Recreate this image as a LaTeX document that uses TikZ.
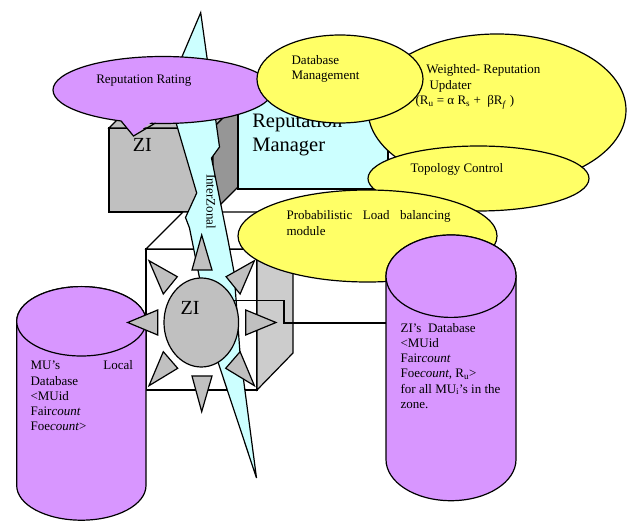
\documentclass[tikz,border=0pt]{standalone}
\usepackage{fontspec}
\setmainfont{Liberation Serif}
\usetikzlibrary{shapes.geometric}
\definecolor{lav}{HTML}{D896FF}
\definecolor{yel}{HTML}{FFFF66}
\definecolor{cya}{HTML}{CCFFFF}
\definecolor{gA}{HTML}{C0C0C0}
\definecolor{gD}{HTML}{969696}
\definecolor{gL}{HTML}{CCCCCC}
\begin{document}
\begin{tikzpicture}[x=1pt,y=-1pt, line width=1.2pt, line join=miter,
 txt/.style={anchor=base west, inner sep=0pt, font=\fontsize{13}{15}\selectfont},
 big/.style={anchor=base west, inner sep=0pt, font=\fontsize{20.5}{24}\selectfont},
 oval/.style={ellipse, draw, inner sep=0pt, outer sep=0pt},
 tri/.style={draw, fill=gA}]
\useasboundingbox (0,0) rectangle (627,521);

% upper cube
\draw[fill=gA] (109,128) rectangle (213,212);
\draw[fill=gA] (109,128) -- (134,103) -- (238,103) -- (213,128) -- cycle;
\draw[fill=gD] (213,128) -- (238,103) -- (238,187) -- (213,212) -- cycle;
\node[anchor=base west, inner sep=0pt, font=\fontsize{20}{24}\selectfont] (zitop) at (132.3,151.7) {ZI};

% reputation manager box
\draw[fill=cya] (238,98) rectangle (388,189);
\node[big] (rm1) at (251.7,127.7) {Reputation};
\node[big] (rm2) at (251.7,151.7) {Manager};

% lower cube
\draw[fill=white] (146,249) rectangle (257,390);
\draw[fill=white] (146,249) -- (183,212) -- (293,212) -- (257,249) -- cycle;
\draw[fill=gL] (257,249) -- (293,212) -- (293,353) -- (257,390) -- cycle;

% interzonal bolt
\draw[fill=cya] (200.7,12.7) -- (219.5,147) -- (211.5,158) -- (228,240) -- (234,272) -- (240,353) -- (256.5,478) -- (214,350) -- (189.5,228) -- (185.5,217.5) -- (196.7,193) -- (167,92) -- cycle;
\node[rotate=-90, inner sep=0pt, font=\fontsize{13}{15}\selectfont] (iz) at (211,201.5) {InterZonal};

% reputation rating bubble
\node[oval, fill=lav, minimum width=220pt, minimum height=67pt] (bub) at (163,90) {};
\fill[lav] (119,117) -- (133.5,136) -- (158,117) -- cycle;
\draw (121.3,121.3) -- (133.5,136) -- (155.5,123);
\node[txt] (rr) at (95.7,84) {Reputation Rating};

% weighted reputation updater
\node[oval, fill=yel, minimum width=258pt, minimum height=152pt] (wr) at (497,110) {};
\node[txt] (wr1) at (425.7,73.3) {Weighted- Reputation};
\node[txt] (wr2) at (429,89.3) {Updater};
\node[txt] (wr3) at (415,105) {(R\textsubscript{u} = α R\textsubscript{s} +\ \ βR\textsubscript{\textit{f}} )};

% database management
\node[oval, fill=yel, minimum width=166pt, minimum height=88pt] (dbm) at (340,79) {};
\node[txt] (dbm1) at (291,65) {Database};
\node[txt] (dbm2) at (291,80) {Management};

% topology control
\node[oval, fill=yel, minimum width=221pt, minimum height=65pt] (tc) at (478.5,178.5) {};
\node[txt] (tc1) at (410,173) {Topology Control};

% probabilistic load balancing
\node[oval, fill=yel, minimum width=259pt, minimum height=92pt] (plb) at (367.5,236) {};
\node[txt] (plb1) at (286,220) {\makebox[164pt][l]{Probabilistic\hfill Load\hfill balancing}};
\node[txt] (plb2) at (286,236) {module};

% ZI's database cylinder
\draw[fill=lav] (386,276.2) -- (386,459.5) arc[start angle=180, end angle=360, x radius=65pt, y radius=41.2pt] -- (516,276.2) arc[start angle=0, end angle=180, x radius=65pt, y radius=41.2pt] -- cycle;
\draw[fill=lav] (451,276.2) ellipse [x radius=65pt, y radius=41.2pt];
\coordinate (zdb) at (386,323);
\node[txt] (zd1) at (400,332.3) {ZI’s\ \ Database};
\node[txt] (zd2) at (400,347.5) {<MUid};
\node[txt] (zd3) at (400,362.7) {Fair\textit{count}};
\node[txt] (zd4) at (400,377.9) {Foe\textit{count}, R\textsubscript{u}>};
\node[txt] (zd5) at (400,393.1) {for all MU\textsubscript{i}’s in the};
\node[txt] (zd6) at (400,408.3) {zone.};

% MU's local database cylinder
\draw[fill=lav] (16.7,321.3) -- (16.7,485.5) arc[start angle=180, end angle=360, x radius=64.65pt, y radius=34.7pt] -- (146,321.3) arc[start angle=0, end angle=180, x radius=64.65pt, y radius=34.7pt] -- cycle;
\draw[fill=lav] (81.35,321.3) ellipse [x radius=64.65pt, y radius=34.7pt];
\node[txt] (mu1) at (30,370) {\makebox[102.3pt][l]{MU’s\hfill Local}};
\node[txt] (mu2) at (30,385.2) {Database};
\node[txt] (mu3) at (30,400.4) {<MUid};
\node[txt] (mu4) at (30,415.6) {Fair\textit{count}};
\node[txt] (mu5) at (30,430.8) {Foe\textit{count}>};

% sun triangles
\draw[tri] (192,270) -- (212,270) -- (201.7,235) -- cycle;
\draw[tri] (192,376) -- (212,376) -- (201.7,411.7) -- cycle;
\draw[tri] (157.7,310) -- (157.7,335) -- (127.7,322.5) -- cycle;
\draw[tri] (245.7,310) -- (245.7,335) -- (276,322.5) -- cycle;
\draw[tri] (149,260.7) -- (177.3,276.7) -- (163.3,294) -- cycle;
\draw[tri] (254.4,260.7) -- (226.1,276.7) -- (240.1,294) -- cycle;
\draw[tri] (149,385.7) -- (163.3,351.7) -- (177.7,368.3) -- cycle;
\draw[tri] (254.4,385.7) -- (240.1,351.7) -- (225.7,368.3) -- cycle;

% ZI circle
\node[oval, fill=gA, minimum width=74.6pt, minimum height=89pt] (zi) at (201.3,322.5) {};
\node[anchor=base west, inner sep=0pt, font=\fontsize{20}{24}\selectfont] (zilbl) at (180,314.3) {ZI};

% connector
\coordinate (k1) at (284,301);
\draw (zi.34) -- (zi.34 -| k1) |- (zdb);
\end{tikzpicture}
\end{document}
